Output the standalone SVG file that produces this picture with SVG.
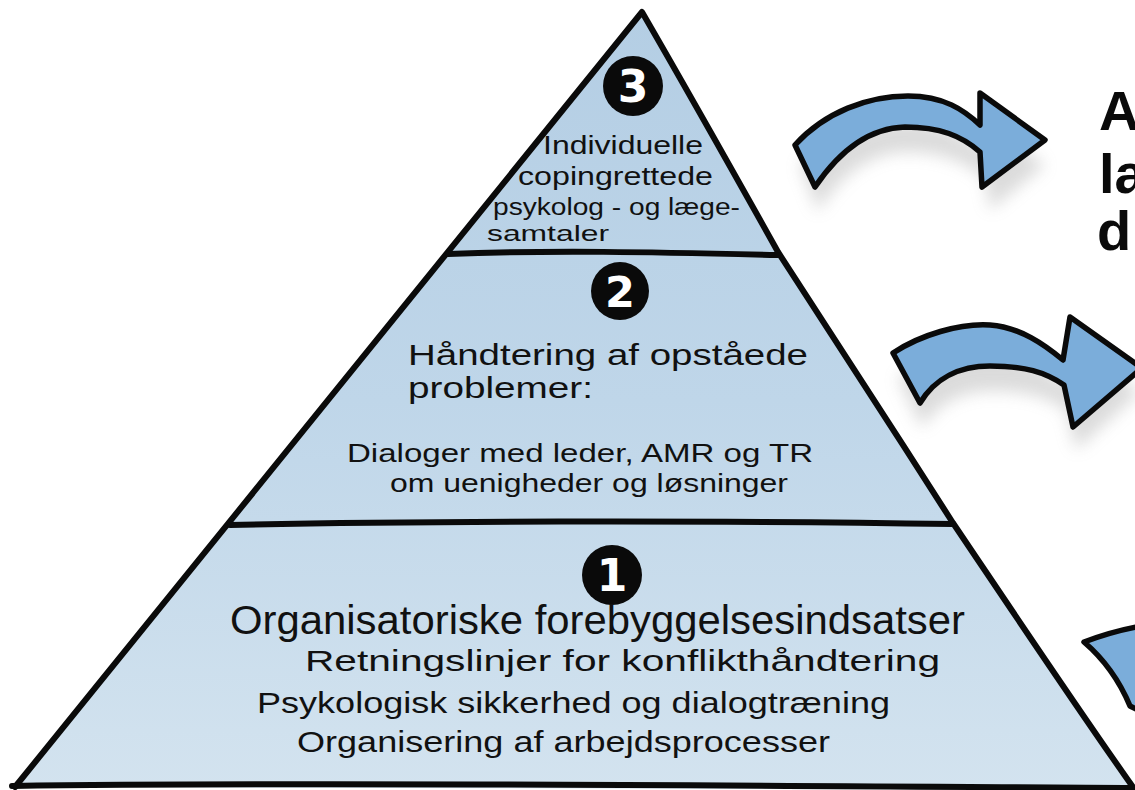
<svg xmlns="http://www.w3.org/2000/svg" width="1135" height="790" viewBox="0 0 1135 790">
  <defs>
    <linearGradient id="pyrFill" x1="0" y1="0" x2="0" y2="1">
      <stop offset="0" stop-color="#b4cee4"/>
      <stop offset="0.5" stop-color="#bfd6e9"/>
      <stop offset="1" stop-color="#d3e3ef"/>
    </linearGradient>
    <filter id="soft" x="-20%" y="-20%" width="140%" height="160%">
      <feGaussianBlur stdDeviation="8"/>
    </filter>
    <style>
      .edge { fill: none; stroke: #0a0a0a; stroke-width: 6; stroke-linecap: round; stroke-linejoin: round; }
      .txt { font-family: "Liberation Sans", Arial, sans-serif; fill: #111; text-anchor: start; }
      .badge { fill: #0a0a0a; }
      .num { font-family: "DejaVu Sans", "Liberation Sans", sans-serif; font-weight: bold; fill: #fff; text-anchor: middle; }
      .arrow { fill: #7badda; stroke: #0a0a0a; stroke-width: 5.5; stroke-linejoin: round; }
      .shadow { fill: #9a9a9a; opacity: 0.35; }
      .side { font-family: "Liberation Sans", Arial, sans-serif; font-weight: bold; fill: #0a0a0a; }
    </style>
  </defs>

  <rect width="1135" height="790" fill="#ffffff"/>

  <!-- pyramid body -->
  <g id="pyramid">
    <path d="M15,787 L642,12 C690,95 735,175 778,252 C835,340 895,432 953,523 C1015,615 1075,705 1135,790 Z" fill="url(#pyrFill)"/>
    <path class="edge" d="M15,787 L642,12 C690,95 735,175 778,252 C835,340 895,432 953,523 C1015,615 1075,705 1135,790"/>
    <path class="edge" d="M12,786 C300,782 800,786 1135,788"/>
    <path class="edge" d="M448,254 C550,250 650,252 778,255"/>
    <path class="edge" d="M230,525 C400,521 700,520 953,524"/>
  </g>

  <!-- level 3 -->
  <g id="level3">
    <circle class="badge" cx="633" cy="86" r="30"/>
    <text class="num" x="633" y="102" font-size="44">3</text>
    <text class="txt" x="543" y="154" font-size="25" textLength="160" lengthAdjust="spacingAndGlyphs">Individuelle</text>
    <text class="txt" x="518" y="185" font-size="25" textLength="195" lengthAdjust="spacingAndGlyphs">copingrettede</text>
    <text class="txt" x="493" y="215" font-size="23" textLength="247" lengthAdjust="spacingAndGlyphs">psykolog - og læge-</text>
    <text class="txt" x="487" y="241" font-size="22" textLength="122" lengthAdjust="spacingAndGlyphs">samtaler</text>
  </g>

  <!-- level 2 -->
  <g id="level2">
    <circle class="badge" cx="620" cy="291" r="29"/>
    <text class="num" x="620" y="307" font-size="43">2</text>
    <text class="txt" x="408" y="365" font-size="30" textLength="400" lengthAdjust="spacingAndGlyphs">Håndtering af opståede</text>
    <text class="txt" x="408" y="398" font-size="30" textLength="185" lengthAdjust="spacingAndGlyphs">problemer:</text>
    <text class="txt" x="347" y="462" font-size="26" textLength="466" lengthAdjust="spacingAndGlyphs">Dialoger med leder, AMR og TR</text>
    <text class="txt" x="390" y="492" font-size="26" textLength="398" lengthAdjust="spacingAndGlyphs">om uenigheder og løsninger</text>
  </g>

  <!-- level 1 -->
  <g id="level1">
    <circle class="badge" cx="612" cy="575" r="30"/>
    <text class="num" x="612" y="591" font-size="44">1</text>
    <text class="txt" x="230" y="634" font-size="40" textLength="735" lengthAdjust="spacingAndGlyphs">Organisatoriske forebyggelsesindsatser</text>
    <text class="txt" x="305" y="671" font-size="30" textLength="635" lengthAdjust="spacingAndGlyphs">Retningslinjer for konflikthåndtering</text>
    <text class="txt" x="257" y="713" font-size="30" textLength="633" lengthAdjust="spacingAndGlyphs">Psykologisk sikkerhed og dialogtræning</text>
    <text class="txt" x="297" y="752" font-size="30" textLength="533" lengthAdjust="spacingAndGlyphs">Organisering af arbejdsprocesser</text>
  </g>

  <!-- arrows -->
  <g id="connectors">
    <path class="shadow" filter="url(#soft)" d="M800,165 C830,135 870,120 910,121 C945,122 965,137 985,150 L990,125 L1045,165 L990,210 L985,178 C962,160 940,152 905,152 C870,153 840,175 818,212 Z"/>
    <path class="arrow" d="M795,145 C825,112 868,96 908,96 C944,96 964,110 980,125 L980,93 L1045,140 L982,187 L980,152 C962,136 940,127 905,127 C870,128 840,150 815,187 Z"/>
    <path class="shadow" filter="url(#soft)" d="M898,378 C925,360 962,350 992,350 C1022,352 1047,370 1065,385 L1075,345 L1140,392 L1076,450 L1066,410 C1047,397 1027,391 992,391 C962,391 938,403 922,428 Z"/>
    <path class="arrow" d="M893,353 C920,335 960,323 990,325 C1020,327 1045,345 1063,360 L1070,317 L1142,368 L1073,427 L1064,385 C1045,372 1025,366 990,366 C960,366 935,378 920,403 Z"/>
    <path class="arrow" d="M1084,642 C1100,636 1118,630 1142,626 L1142,712 L1130,706 C1120,682 1105,660 1084,642 Z"/>
  </g>

  <!-- cut-off side text -->
  <g id="side-text">
    <text class="side" x="1099" y="130" font-size="56">A</text>
    <text class="side" x="1099" y="193" font-size="56">la</text>
    <text class="side" x="1097" y="250" font-size="56">d</text>
  </g>
</svg>
